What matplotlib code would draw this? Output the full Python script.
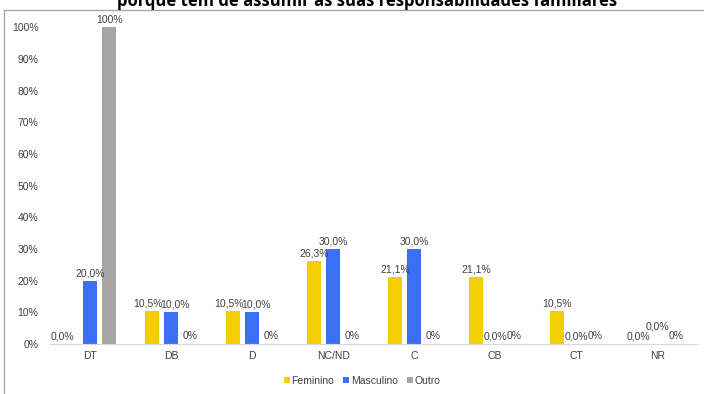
import matplotlib.pyplot as plt
import numpy as np
from matplotlib.lines import Line2D

plt.rcParams['font.family'] = ['Liberation Sans', 'DejaVu Sans']

categories = ["DT", "DB", "D", "NC/ND", "C", "CB", "CT", "NR"]
feminino = [0.0, 10.5, 10.5, 26.3, 21.1, 21.1, 10.5, 0.0]
masculino = [20.0, 10.0, 10.0, 30.0, 30.0, 0.0, 0.0, 0.0]
outro = [100, 0, 0, 0, 0, 0, 0, 0]
yticks = [0, 10, 20, 30, 40, 50, 60, 70, 80, 90, 100]
title = "porque tem de assumir as suas responsabilidades familiares"

c_fem = "#F3CE00"
c_mas = "#3B6FF6"
c_out = "#A5A5A5"
txt = "#404040"

fig = plt.figure(figsize=(7.04, 3.94), dpi=100)
ax = fig.add_axes([0.0703, 0.127, 0.9207, 0.804])

x = np.arange(len(categories))
step = 0.235
w = 0.172
b1 = ax.bar(x - step, feminino, w, color=c_fem, label="Feminino")
b2 = ax.bar(x, masculino, w, color=c_mas, label="Masculino")
b3 = ax.bar(x + step, outro, w, color=c_out, label="Outro")

def fmt1(v):
    return ("%.1f%%" % v).replace(".", ",")

lab_kw = dict(ha="center", va="bottom", fontsize=7.5, color=txt)
for i in range(len(categories)):
    # Excel nudges a few labels sideways where they would collide
    dx_f = -0.05 if feminino[i] > 0 and masculino[i] > 0 and feminino[i] < 15 else 0
    dx_m = 0.05 if feminino[i] > 0 and masculino[i] > 0 and masculino[i] < 15 else 0
    if i == 0:
        dx_f = -0.1
    ax.text(x[i] - step + dx_f, feminino[i] + 0.8, fmt1(feminino[i]), **lab_kw)
    dy = 4 if (categories[i] == "NR") else 0.8
    ax.text(x[i] + dx_m, masculino[i] + dy, fmt1(masculino[i]), **lab_kw)
    ax.text(x[i] + step, outro[i] + 0.8, "%d%%" % outro[i], **lab_kw)

ax.set_xlim(-0.5, len(categories) - 0.5)
ax.set_ylim(0, 100)
ax.set_yticks(yticks)
ax.set_yticklabels(["%d%%" % t for t in yticks])
ax.set_xticks(x)
ax.set_xticklabels(categories)
ax.tick_params(axis="both", length=0, labelsize=7.5, labelcolor=txt)
ax.tick_params(axis="y", pad=8)
ax.tick_params(axis="x", pad=5)
for s in ["top", "right", "left"]:
    ax.spines[s].set_visible(False)
ax.spines["bottom"].set_color("#D9D9D9")
ax.patch.set_alpha(0)

fig.legend(handles=[b1, b2, b3], loc="center", bbox_to_anchor=(362 / 704, 1 - 381 / 394),
           ncol=3, frameon=False, fontsize=7.5, handlelength=0.55, handleheight=0.55,
           handletextpad=0.15, columnspacing=0.9, labelcolor=txt)

# chart frame (top and left edges visible)
top = 1 - 10 / 394
left = 4 / 704
fig.add_artist(Line2D([left, 1], [top, top], transform=fig.transFigure,
                      color="#A6A6A6", linewidth=1))
fig.add_artist(Line2D([left, left], [0, top], transform=fig.transFigure,
                      color="#A6A6A6", linewidth=1))

fig.text(367 / 704, 1 - 6 / 394, title, ha="center", va="baseline",
         fontsize=12, fontweight="bold", color="#000000", family="Open Sans")

fig.savefig("out.png", dpi=100)
